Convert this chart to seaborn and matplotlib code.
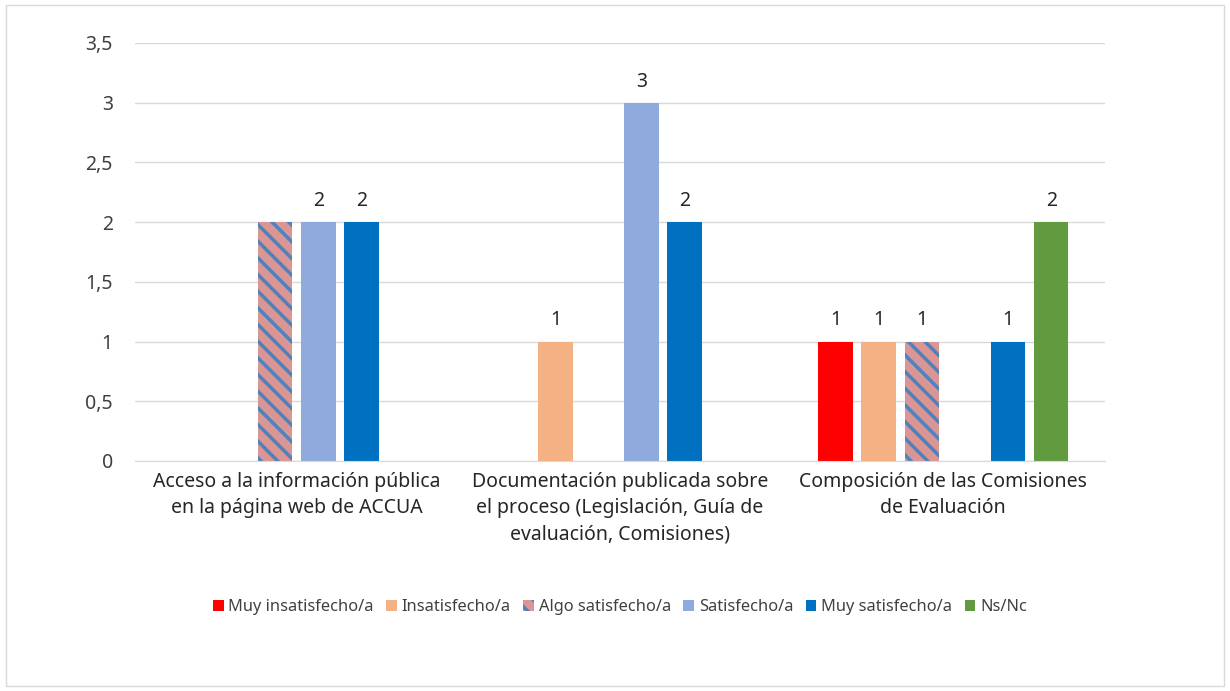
import numpy as np
import pandas as pd
import matplotlib
matplotlib.use('Agg')
import matplotlib.pyplot as plt
import seaborn as sns
from matplotlib.patches import Rectangle, Patch

# Datos
categorias = ['Acceso a la información pública\nen la página web de ACCUA',
              'Documentación publicada sobre\nel proceso (Legislación, Guía de\nevaluación, Comisiones)',
              'Composición de las Comisiones\nde Evaluación']
respuestas = ['Muy insatisfecho/a', 'Insatisfecho/a', 'Algo satisfecho/a',
              'Satisfecho/a', 'Muy satisfecho/a', 'Ns/Nc']
muy_insatisfecho = [0, 0, 1]
insatisfecho = [0, 1, 1]
algo_satisfecho = [2, 0, 1]
satisfecho = [2, 3, 0]
muy_satisfecho = [2, 2, 1]
ns_nc = [0, 0, 2]
# etiquetas visibles en el original (la barra rayada del primer grupo no lleva)
mostrar_algo = [False, False, True]

colores = ['#FF0000', '#F4B183', '#D99694', '#8FAADC', '#0070C0', '#629B3F']
COLOR_RAYAS = '#4F81BD'

series = [muy_insatisfecho, insatisfecho, algo_satisfecho, satisfecho, muy_satisfecho, ns_nc]
filas = []
for resp, vals in zip(respuestas, series):
    for cat, v in zip(categorias, vals):
        filas.append({'Categoria': cat, 'Respuesta': resp, 'Valor': v})
df = pd.DataFrame(filas)

sns.set_style('white')
plt.rcParams['font.family'] = ['Noto Sans', 'DejaVu Sans']
plt.rcParams['hatch.linewidth'] = 2.5

fig = plt.figure(figsize=(12.3, 6.91), dpi=100)
ax = fig.add_axes([0.1098, 0.3329, 0.7886, 0.6049])

sns.barplot(data=df, x='Categoria', y='Valor', hue='Respuesta', order=categorias,
            hue_order=respuestas, palette=colores, width=0.8, gap=0.2,
            ax=ax, legend=False, linewidth=0, saturation=1)

# rayado de "Algo satisfecho/a" y etiquetas
for i, (cont, resp) in enumerate(zip(ax.containers, respuestas)):
    vals = series[i]
    if resp == 'Algo satisfecho/a':
        for p in cont.patches:
            p.set_hatch('\\\\')
            p.set_edgecolor(COLOR_RAYAS)
            p.set_linewidth(0)
        etiquetas = [f'{v:g}' if (v > 0 and m) else '' for v, m in zip(vals, mostrar_algo)]
    else:
        etiquetas = [f'{v:g}' if v > 0 else '' for v in vals]
    ax.bar_label(cont, labels=etiquetas, padding=8, fontsize=14, color='#262626')

ax.set_ylim(0, 3.5)
ax.set_yticks(np.arange(0, 3.51, 0.5))
ax.set_yticklabels([f'{t:g}'.replace('.', ',') for t in np.arange(0, 3.51, 0.5)])
ax.yaxis.grid(True, color='#D9D9D9', linewidth=1)
ax.set_axisbelow(True)
for s in ['left', 'right', 'top']:
    ax.spines[s].set_visible(False)
ax.spines['bottom'].set_color('#D9D9D9')
ax.tick_params(axis='y', length=0, labelsize=14, colors='#404040', pad=16)
ax.tick_params(axis='x', length=0, labelsize=14, colors='#262626', pad=8)
for t in ax.get_xticklabels():
    t.set_linespacing(1.4)
ax.set_xlabel('')
ax.set_ylabel('')

# leyenda
handles = []
for resp, col in zip(respuestas, colores):
    if resp == 'Algo satisfecho/a':
        handles.append(Patch(facecolor=col, edgecolor=COLOR_RAYAS, hatch='\\\\', linewidth=0, label=resp))
    else:
        handles.append(Patch(facecolor=col, linewidth=0, label=resp))
fig.legend(handles=handles, loc='center', bbox_to_anchor=(0.504, 0.121), ncol=6,
           frameon=False, fontsize=11.8, handlelength=0.65, handleheight=0.65,
           handletextpad=0.3, columnspacing=0.75, labelcolor='#404040')

# borde del área del gráfico
fig.patches.append(Rectangle((0.005, 0.007), 0.99, 0.986, transform=fig.transFigure,
                             fill=False, edgecolor='#D9D9D9', linewidth=1))

fig.savefig('out.png', dpi=100)
